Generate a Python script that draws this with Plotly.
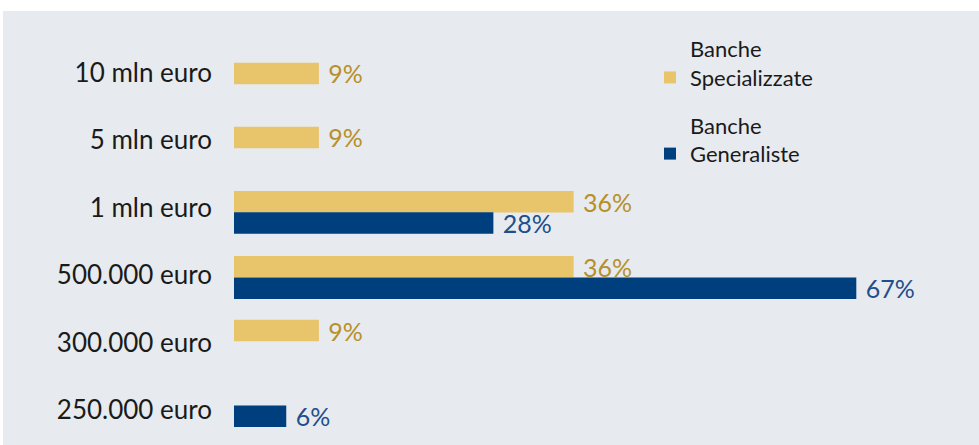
import plotly.graph_objects as go

categories = ["10 mln euro", "5 mln euro", "1 mln euro", "500.000 euro", "300.000 euro", "250.000 euro"]
specializzate = [9.1, 9.1, 36.4, 36.4, 9.1, None]
generaliste = [None, None, 27.8, 66.7, None, 5.6]
series_names = ["Banche<br>Specializzate", "Banche<br>Generaliste"]

# style: per-bar vertical offsets (category units) to mimic the original layout
spec_offset = [-0.148, -0.201, -0.249, -0.287, -0.340, 0]
gen_offset = [0, 0, 0.067, 0.034, 0, -0.071]
bar_w = 0.318

YELLOW = "#E8C46A"
BLUE = "#003F7D"
FONT = "Lato"

fig = go.Figure()
fig.add_trace(go.Bar(
    y=categories, x=specializzate, orientation="h", name=series_names[0],
    marker=dict(color=YELLOW, line=dict(width=0)),
    offset=spec_offset, width=bar_w,
    texttemplate="\u00a0%{x:.0f}%", textposition="outside", cliponaxis=False,
    constraintext="none",
    textfont=dict(family=FONT, size=25, color="#B8902A"),
    legendgroup="a",
))
fig.add_trace(go.Bar(
    y=categories, x=generaliste, orientation="h", name=series_names[1],
    marker=dict(color=BLUE, line=dict(width=0)),
    offset=gen_offset, width=bar_w,
    texttemplate="\u00a0%{x:.0f}%", textposition="outside", cliponaxis=False,
    constraintext="none",
    textfont=dict(family=FONT, size=25, color="#1F4E8C"),
    legendgroup="b",
))

W, H = 979, 445
L, T = 234, 39
fig.update_layout(
    width=W, height=H,
    margin=dict(l=L, r=0, t=T, b=1, pad=0),
    barmode="overlay",
    paper_bgcolor="white",
    plot_bgcolor="rgba(0,0,0,0)",
    font=dict(family=FONT, color="#1A1A1A"),
    xaxis=dict(visible=False, range=[0, 79.85]),
    yaxis=dict(
        type="category", categoryorder="array", categoryarray=categories,
        range=[5.5, -0.5], showgrid=False, showline=False, zeroline=False,
        ticks="", ticklabelstandoff=21,
        tickfont=dict(family=FONT, size=26, color="#1A1A1A"),
    ),
    legend=dict(
        x=(650 - L) / 745, xanchor="left", y=1 + 11 / 405, yanchor="top",
        bgcolor="rgba(0,0,0,0)", borderwidth=0,
        font=dict(family=FONT, size=22, color="#1A1A1A"),
        traceorder="grouped", tracegroupgap=16, valign="bottom",
        itemwidth=30,
    ),
    shapes=[dict(
        type="rect", xref="paper", yref="paper", layer="below",
        x0=(3 - L) / 745, x1=1.05, y0=-0.05, y1=1 + (T - 11) / 405,
        fillcolor="#E7EBEF", line=dict(width=0),
    )],
)

fig.write_html("out.html")
